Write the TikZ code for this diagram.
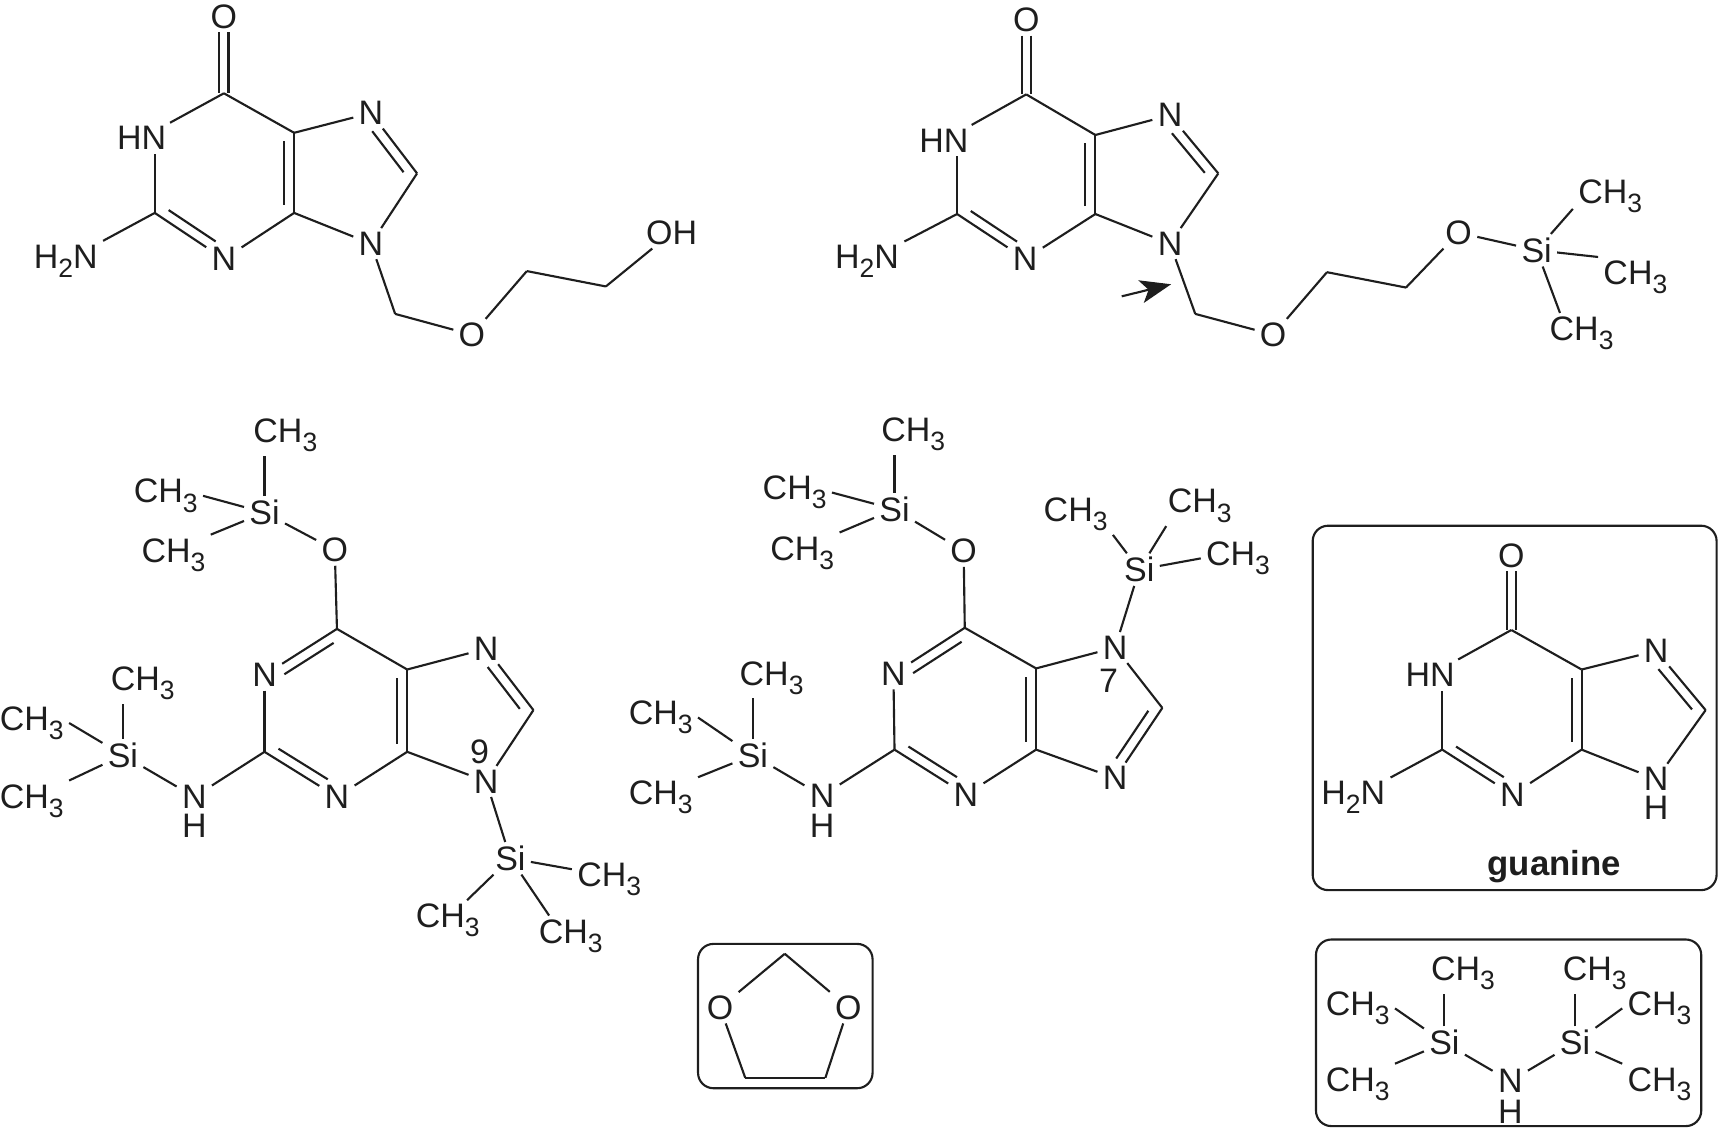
\documentclass[tikz,border=0pt]{standalone}
\usepackage{fontspec}
\setmainfont{Liberation Sans}
\usetikzlibrary{arrows.meta}
\usetikzlibrary{calc}
\definecolor{ink}{HTML}{1E1E1E}
\newcommand{\sbs}[1]{\raisebox{-0.27em}{\scalebox{.78}{#1}}}
\newcommand{\mey}{CH\sbs{3}}
\newcommand{\dbl}[2]{\draw[bond] (#1) -- (#2); \draw[bond] ($(#1)!.12!(#2)!2.6pt!90:(#2)$) -- ($(#1)!.80!(#2)!2.6pt!90:(#2)$);}
\newcommand{\dblcc}[2]{\draw[bond] (#1) -- (#2); \draw[bond] ($(#1)!.1!(#2)!2.6pt!90:(#2)$) -- ($(#1)!.9!(#2)!2.6pt!90:(#2)$);}
\tikzset{
atom/.style={text=ink,font=\fontsize{8.8}{10}\selectfont,inner xsep=1.4pt,inner ysep=1pt,outer sep=0pt},
meth/.style={atom,yshift=-0.5pt},
bond/.style={draw=ink,line width=0.55pt},
panel/.style={draw=ink,line width=0.55pt,rounded corners=1.4mm}
}
\begin{document}
\begin{tikzpicture}[x=0.01cm,y=-0.01cm]
\useasboundingbox (0,0) rectangle (1568,1028.6);
\node[atom](aO) at (204,15){O};
\coordinate(aC6) at (204,85);
\node[atom](aHN) at (129,126){HN};
\coordinate(aC2) at (141,194);
\node[meth](aNH) at (60,236){H\sbs{2}N};
\node[atom](aN3) at (204,236){N};
\coordinate(aC4) at (268,194);
\coordinate(aC5) at (268,121);
\node[atom](aN7) at (338,103){N};
\coordinate(aC8) at (380,158);
\node[atom](aN9) at (338,222){N};
\coordinate(aC1) at (360,286);
\node[atom](aOe) at (430,305){O};
\coordinate(aC3) at (480,247);
\coordinate(aC7) at (552,261);
\node[atom](aOH) at (612,212){OH};
\draw[bond] ([xshift=-1.2pt]aO.south) -- ([xshift=-1.2pt]aC6);
\draw[bond] ([xshift=1.2pt]aO.south) -- ([xshift=1.2pt]aC6);
\draw[bond] (aC6) -- (aHN);
\draw[bond] (aC2) -- (aC2 |- aHN.south);
\dbl{aC2}{aN3}
\draw[bond] (aC2) -- (aNH);
\draw[bond] (aN3) -- (aC4);
\dblcc{aC4}{aC5}
\draw[bond] (aC6) -- (aC5);
\draw[bond] (aC5) -- (aN7);
\dbl{aC8}{aN7}
\draw[bond] (aC8) -- (aN9);
\draw[bond] (aC4) -- (aN9);
\draw[bond] (aN9) -- (aC1);
\draw[bond] (aC1) -- (aOe);
\draw[bond] (aOe) -- (aC3);
\draw[bond] (aC3) -- (aC7);
\draw[bond] (aC7) -- (aOH);

\node[atom](bO) at (935,18){O};
\coordinate(bC6) at (935,86);
\node[atom](bHN) at (860,128){HN};
\coordinate(bC2) at (872,195);
\node[meth](bNH) at (790,236){H\sbs{2}N};
\node[atom](bN3) at (934,236){N};
\coordinate(bC4) at (998,195);
\coordinate(bC5) at (998,123);
\node[atom](bN7) at (1066,105){N};
\coordinate(bC8) at (1110,158);
\node[atom](bN9) at (1066,222){N};
\coordinate(bC1) at (1089,286);
\node[atom](bOe) at (1160,305){O};
\coordinate(bC3) at (1209,248);
\coordinate(bC7) at (1281,262);
\node[atom](bOs) at (1329,212){O};
\node[atom](bSi) at (1400,228){Si};
\node[meth](bMa) at (1467,177){\mey};
\node[meth](bMb) at (1490,251){\mey};
\node[meth](bMc) at (1441,302){\mey};
\coordinate(bArs) at (1022,270);
\coordinate(bAre) at (1067,259);
\draw[bond] ([xshift=-1.2pt]bO.south) -- ([xshift=-1.2pt]bC6);
\draw[bond] ([xshift=1.2pt]bO.south) -- ([xshift=1.2pt]bC6);
\draw[bond] (bC6) -- (bHN);
\draw[bond] (bC2) -- (bC2 |- bHN.south);
\dbl{bC2}{bN3}
\draw[bond] (bC2) -- (bNH);
\draw[bond] (bN3) -- (bC4);
\dblcc{bC4}{bC5}
\draw[bond] (bC6) -- (bC5);
\draw[bond] (bC5) -- (bN7);
\dbl{bC8}{bN7}
\draw[bond] (bC8) -- (bN9);
\draw[bond] (bC4) -- (bN9);
\draw[bond] (bN9) -- (bC1);
\draw[bond] (bC1) -- (bOe);
\draw[bond] (bOe) -- (bC3);
\draw[bond] (bC3) -- (bC7);
\draw[bond] (bC7) -- (bOs);
\draw[bond] (bOs) -- (bSi);
\draw[bond] (bSi) -- ([yshift=2pt]bMa.south west);
\draw[bond] (bSi) -- (bMb.north west);
\draw[bond] (bSi) -- ([xshift=-5.6pt]bMc.north);
\draw[ink,line width=0.55pt,-{Stealth[length=8pt,width=6pt,inset=2pt]}] (bArs) -- (bAre);

\node[atom](cO) at (305,501){O};
\node[atom](cSi) at (241,467){Si};
\node[meth](cMa) at (260,395){\mey};
\node[meth](cMb) at (151,450){\mey};
\node[meth](cMc) at (158,504){\mey};
\coordinate(cC6) at (307,573);
\node[atom](cN1) at (241,615){N};
\coordinate(cC2) at (241,685);
\node[atom](cN3) at (307,726){N};
\coordinate(cC4) at (371,685);
\coordinate(cC5) at (371,610);
\node[atom](cN7) at (443,591){N};
\coordinate(cC8) at (486,647);
\node[atom](cN9) at (443,712){N};
\node[atom](cLn) at (437,685){9};
\node[atom](cNa) at (177,726){N};
\node[atom](cHa) at (177,752){H};
\node[atom](cSa) at (112,688){Si};
\node[meth](cMd) at (130,621){\mey};
\node[meth](cMe) at (29,657){\mey};
\node[meth](cMf) at (29,728){\mey};
\node[atom](cSb) at (465,782){Si};
\node[meth](cMg) at (555,799){\mey};
\node[meth](cMh) at (408,837){\mey};
\node[meth](cMi) at (520,851){\mey};
\draw[bond] (cSi) -- (cSi |- cMa.south);
\draw[bond] (cSi) -- (cMb.east);
\draw[bond] (cSi) -- (cMc.north east);
\draw[bond] (cSi) -- (cO);
\draw[bond] (cO) -- (cC6);
\dbl{cC6}{cN1}
\draw[bond] (cN1) -- (cC2);
\dbl{cC2}{cN3}
\draw[bond] (cN3) -- (cC4);
\dblcc{cC4}{cC5}
\draw[bond] (cC6) -- (cC5);
\draw[bond] (cC5) -- (cN7);
\dbl{cC8}{cN7}
\draw[bond] (cC8) -- (cN9);
\draw[bond] (cC4) -- (cN9);
\draw[bond] (cC2) -- (cNa);
\draw[bond] (cNa) -- (cSa);
\draw[bond] (cSa) -- (cSa |- cMd.south);
\draw[bond] (cSa) -- (cMe.east);
\draw[bond] (cSa) -- (cMf.north east);
\draw[bond] (cN9) -- (cSb);
\draw[bond] (cSb) -- ([yshift=2.5pt]cMg.west);
\draw[bond] (cSb) -- ([xshift=5pt]cMh.north);
\draw[bond] (cSb) -- ([xshift=-5.6pt]cMi.north);

\node[atom](dO) at (878,502){O};
\node[atom](dSi) at (815,464){Si};
\node[meth](dMa) at (832,394){\mey};
\node[meth](dMb) at (724,447){\mey};
\node[meth](dMc) at (731,502){\mey};
\coordinate(dC6) at (879,572);
\node[atom](dN1) at (814,614){N};
\coordinate(dC2) at (815,683);
\node[atom](dN3) at (880,724){N};
\coordinate(dC4) at (944,683);
\coordinate(dC5) at (944,609);
\node[atom](dN7) at (1016,590){N};
\node[atom](dLn) at (1010,620){7};
\coordinate(dC8) at (1059,645);
\node[atom](dN9) at (1016,709){N};
\node[atom](dSt) at (1038,519){Si};
\node[meth](dMd) at (980,467){\mey};
\node[meth](dMe) at (1093,459){\mey};
\node[meth](dMf) at (1128,507){\mey};
\node[atom](dNa) at (749,725){N};
\node[atom](dHa) at (749,752){H};
\node[atom](dSa) at (686,688){Si};
\node[meth](dMg) at (703,616){\mey};
\node[meth](dMh) at (602,652){\mey};
\node[meth](dMi) at (602,725){\mey};
\draw[bond] (dSi) -- (dSi |- dMa.south);
\draw[bond] (dSi) -- (dMb.east);
\draw[bond] (dSi) -- (dMc.north east);
\draw[bond] (dSi) -- (dO);
\draw[bond] (dO) -- (dC6);
\dbl{dC6}{dN1}
\draw[bond] (dN1) -- (dC2);
\dbl{dC2}{dN3}
\draw[bond] (dN3) -- (dC4);
\dblcc{dC4}{dC5}
\draw[bond] (dC6) -- (dC5);
\draw[bond] (dC5) -- (dN7);
\draw[bond] (dN7) -- (dC8);
\draw[bond] (dC8) -- (dN9);
\draw[bond] ($(dC8)!.12!(dN9)!-2.6pt!90:(dN9)$) -- ($(dC8)!.80!(dN9)!-2.6pt!90:(dN9)$);
\draw[bond] (dC4) -- (dN9);
\draw[bond] (dN7) -- (dSt);
\draw[bond] (dSt) -- (dMd.south east);
\draw[bond] (dSt) -- ([xshift=1pt]dMe.south west);
\draw[bond] (dSt) -- (dMf.west);
\draw[bond] (dC2) -- (dNa);
\draw[bond] (dNa) -- (dSa);
\draw[bond] (dSa) -- (dSa |- dMg.south);
\draw[bond] (dSa) -- (dMh.east);
\draw[bond] (dSa) -- (dMi.north east);

\draw[panel] (636,860) rectangle (795,991.5);
\coordinate(eC1) at (715,869);
\node[atom](eOa) at (656,918){O};
\node[atom](eOb) at (773,918){O};
\coordinate(eC2) at (679,982);
\coordinate(eC3) at (752,982);
\draw[bond] (eC1) -- (eOa);
\draw[bond] (eC1) -- (eOb);
\draw[bond] (eOa) -- (eC2);
\draw[bond] (eC2) -- (eC3);
\draw[bond] (eC3) -- (eOb);

\draw[panel] (1196,479) rectangle (1564,811);
\node[atom](gO) at (1377,506){O};
\coordinate(gC6) at (1377,574);
\node[atom](gHN) at (1303,615){HN};
\coordinate(gC2) at (1314,683);
\node[meth](gNH) at (1233,725){H\sbs{2}N};
\node[atom](gN3) at (1378,724){N};
\coordinate(gC4) at (1441,683);
\coordinate(gC5) at (1441,610);
\node[atom](gN7) at (1509,593){N};
\coordinate(gC8) at (1554,647);
\node[atom](gN9) at (1509,710){N};
\node[atom](gHa) at (1509,736){H};
\node[atom,font=\fontsize{9}{10}\selectfont\bfseries](gName) at (1416,790){guanine};
\draw[bond] ([xshift=-1.2pt]gO.south) -- ([xshift=-1.2pt]gC6);
\draw[bond] ([xshift=1.2pt]gO.south) -- ([xshift=1.2pt]gC6);
\draw[bond] (gC6) -- (gHN);
\draw[bond] (gC2) -- (gC2 |- gHN.south);
\dbl{gC2}{gN3}
\draw[bond] (gC2) -- (gNH);
\draw[bond] (gN3) -- (gC4);
\dblcc{gC4}{gC5}
\draw[bond] (gC6) -- (gC5);
\draw[bond] (gC5) -- (gN7);
\dbl{gC8}{gN7}
\draw[bond] (gC8) -- (gN9);
\draw[bond] (gC4) -- (gN9);

\draw[panel] (1199,856) rectangle (1550,1026);
\node[atom](hSa) at (1316,950){Si};
\node[atom](hSb) at (1435,950){Si};
\node[atom](hNa) at (1376,985){N};
\node[atom](hHa) at (1376,1013){H};
\node[meth](hMa) at (1333,885){\mey};
\node[meth](hMb) at (1237,917){\mey};
\node[meth](hMc) at (1237,986){\mey};
\node[meth](hMd) at (1453,885){\mey};
\node[meth](hMe) at (1512,917){\mey};
\node[meth](hMf) at (1512,986){\mey};
\draw[bond] (hSa) -- (hSa |- hMa.south);
\draw[bond] (hSa) -- (hMb.east);
\draw[bond] (hSa) -- (hMc.north east);
\draw[bond] (hSa) -- (hNa);
\draw[bond] (hNa) -- (hSb);
\draw[bond] (hSb) -- (hSb |- hMd.south);
\draw[bond] (hSb) -- (hMe.west);
\draw[bond] (hSb) -- (hMf.north west);
\end{tikzpicture}
\end{document}
